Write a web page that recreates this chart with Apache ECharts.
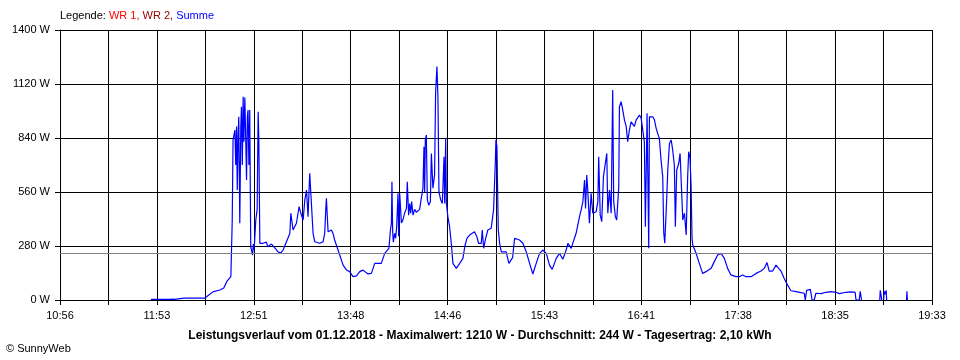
<!DOCTYPE html>
<html><head><meta charset="utf-8">
<script src="https://cdn.jsdelivr.net/npm/echarts@6/dist/echarts.min.js"></script>
<style>html,body{margin:0;padding:0;background:#fff}#c{width:960px;height:360px}</style>
</head><body><div id="c"></div>
<script>
// x tick labels (every second grid line), from 10:56
const timeLabels = ['10:56','11:53','12:51','13:48','14:46','15:43','16:41','17:38','18:35','19:33'];
const gridStepMinutes = 28.75;   // minutes between vertical grid lines
const spanMinutes = 517.5;       // 10:56 -> 19:33
const yTicksMax = 1400, yStep = 280;
const averageW = 244;

// [minutes after 10:56, W]
const morning = [
 [54.0,3],[59.3,3],[60.2,12],[61.1,3],[65.2,3],[67.0,5],[68.2,3],[73.5,10],[86.0,10],[87.2,18],
 [90.7,42],[94.9,52],[97.2,62],[99.0,96],[101.4,121],[102.2,407],[102.7,830],[103.8,881],[104.3,700],
 [104.8,899],[105.2,570],[105.7,850],[106.1,950],[106.7,398],[107.3,900],[107.7,1002],[108.2,700],
 [108.7,1054],[109.1,820],[109.7,1050],[110.3,800],[110.7,622],[111.2,950],[111.6,985],[112.1,700],
 [112.6,985],[113.2,276],[114.3,233],[114.7,290],[115.2,260],[116.2,415],[117.0,470],[117.6,976],
 [118.0,830],[118.6,294],[120.4,294],[122.5,300],[123.3,276],[125.5,290],[127.5,270],[129.4,250],
 [130.9,243],[132.4,259],[134.4,302],[136.4,345],[137.0,450],[138.3,363],[140.3,398],[141.9,484],
 [142.9,450],[144.3,415],[145.3,519],[146.3,570],[147.2,432],[148.2,657],[149.2,657],[150.2,345],
 [151.2,302],[154.2,294],[156.1,302],[157.1,345],[157.7,467],[158.1,527],[159.1,354],[161.1,363],
 [162.0,345],[163.0,311],[165.0,259],[166.0,233],[168.0,181],[170.0,156],[171.9,147],[173.9,121],
 [175.9,125],[177.9,147]
];
const midday = [
 [179.8,155],[182.8,135],[184.8,138],[186.8,190],[190.7,190],[192.7,242],[195.2,268],[196.1,363],
 [196.7,400],[197.0,613],[197.4,360],[197.8,300],[198.6,345],[199.2,320],[199.8,380],[200.6,553],
 [201.0,330],[201.6,553],[202.6,400],[203.5,415],[204.5,450],[205.6,475],[206.1,613],[206.9,440],
 [207.5,500],[208.1,450],[208.7,510],[209.5,440],[210.5,470],[211.5,455],[212.3,460],[213.4,470],
 [214.4,527],[215.4,580],[216.0,795],[216.4,560],[216.8,830],[217.4,855],[218.0,520],[218.8,492],
 [219.8,510],[220.4,760],[221.3,580],[222.3,650],[222.9,1072],[223.7,1210],[224.3,1050],[224.9,560],
 [225.9,520],[226.9,500],[227.9,743],[228.3,500],[228.9,838],[229.3,501],[230.2,432],[231.2,380],
 [232.2,294],[233.2,190],[235.2,164],[237.2,190],[239.1,216],[240.3,280],[241.5,320],[243.1,337],
 [246.0,354],[247.4,328],[248.4,294],[250.0,294],[250.6,363],[251.4,268],[252.6,320],[253.9,363],
 [255.9,372],[257.3,467],[258.3,700],[258.7,830],[259.3,795],[260.1,363],[260.9,294],[261.9,250],
 [264.8,250],[266.4,190],[268.6,220],[269.8,320],[272.7,311],[274.7,294],[276.7,250],[278.7,190],
 [280.6,135],[282.6,190],[284.6,242],[286.5,259],[288.6,242],[290.5,181],[292.1,159],[294.5,216],
 [296.4,242]
];
const afternoon = [
 [298.4,211],[300.4,259],[301.4,294],[303.4,268],[304.3,294],[306.3,346],[308.3,432],[309.3,467],
 [310.3,510],[311.3,622],[311.9,475],[312.6,648],[313.2,570],[314.2,398],[315.2,553],[316.2,450],
 [317.2,440],[318.2,458],[319.2,510],[319.7,743],[320.6,440],[321.5,406],[322.5,640],[323.5,700],
 [324.5,760],[325.1,450],[326.1,570],[327.1,450],[328.0,1089],[328.6,510],[329.6,432],[330.4,415],
 [331.6,588],[332.0,1002],[333.0,1028],[334.0,985],[335.0,933],[336.0,900],[336.9,821],[337.9,880],
 [338.9,924],[339.9,915],[340.9,900],[341.9,933],[342.9,942],[343.9,959],[344.9,942],[345.8,933],
 [346.8,820],[347.4,380],[348.4,968],[349.4,268],[349.8,950],[350.8,959],[351.8,950],[352.8,933],
 [353.8,890],[354.7,864],[355.7,838],[356.7,725],[357.7,640],[358.3,350],[358.9,294],[359.7,450],
 [360.7,674],[361.7,812],[362.7,830],[363.6,778],[364.6,700],[365.2,380],[366.0,674],[367.2,708],
 [368.0,760],[368.6,769],[369.6,415],[370.6,450],[371.6,337],[372.5,640],[373.1,769],[373.9,734],
 [374.5,600],[375.1,320],[375.5,285],[377.5,242],[379.4,190],[381.4,138],[383.4,147],[386.4,164],
 [388.3,199],[390.3,233],[392.3,242],[394.3,216],[396.2,164],[398.2,130],[401.2,121],[403.2,121]
];
const evening = [
 [405.1,130],[407.1,121],[410.1,121],[413.1,138],[416.0,150],[418.0,164],[419.6,194],[420.9,150],
 [422.9,150],[424.9,181],[425.9,176],[427.9,150],[429.8,112],[431.8,78],[433.8,48],[436.8,43],
 [439.7,38],[441.7,35],[442.3,0],[443.1,50],[444.2,60],[445.3,55],[446.3,0],[447.6,0],[448.6,35],
 [451.6,33],[454.6,40],[457.5,43],[460.5,40],[462.5,33],[466.4,40],[469.4,42],[471.9,40],[472.4,0],
 [474.3,0],[474.9,45],[475.7,0],[476.0,null],
 [486.5,0],[486.8,50],[487.4,48],[487.7,0],[488.0,null],
 [488.8,0],[489.1,45],[489.7,30],[490.3,50],[490.6,0],[491.0,null],
 [502.4,0],[502.6,45],[502.9,0]
];

const sumData = morning.concat(midday, afternoon, evening).map(p => [p[0], p[1] === null ? '-' : p[1]]);
const font = 'Liberation Sans, Arial, sans-serif';

const chart = echarts.init(document.getElementById('c'), null, {renderer: 'canvas'});
chart.setOption({
  animation: false,
  backgroundColor: '#ffffff',
  textStyle: {fontFamily: font},
  title: [
    {
      text: '{k|Legende: }{a|WR 1, }{b|WR 2, }{c|Summe}',
      left: 60, top: 10, padding: 0,
      textStyle: {
        fontWeight: 'normal', fontSize: 11,
        rich: {
          k: {color: '#000', fontSize: 11, fontWeight: 'normal', fontFamily: font},
          a: {color: '#ff0000', fontSize: 11, fontWeight: 'normal', fontFamily: font},
          b: {color: '#990000', fontSize: 11, fontWeight: 'normal', fontFamily: font},
          c: {color: '#0000ff', fontSize: 11, fontWeight: 'normal', fontFamily: font}
        }
      }
    },
    {
      text: 'Leistungsverlauf vom 01.12.2018 - Maximalwert: 1210 W - Durchschnitt: ' + averageW + ' W - Tagesertrag: 2,10 kWh',
      left: 'center', top: 330, padding: 0,
      textStyle: {color: '#000', fontSize: 12, fontWeight: 'bold', fontFamily: font}
    },
    {
      text: '\u00A9 SunnyWeb',
      left: 6, top: 343, padding: 0,
      textStyle: {color: '#000', fontSize: 11, fontWeight: 'normal', fontFamily: font}
    }
  ],
  grid: {left: 60, right: 28, top: 30, bottom: 60, containLabel: false},
  xAxis: {
    type: 'value', min: 0, max: spanMinutes, interval: gridStepMinutes,
    axisLine: {show: true, lineStyle: {color: '#000', width: 1}},
    axisTick: {show: true, length: 5, lineStyle: {color: '#000', width: 1}},
    splitLine: {show: true, lineStyle: {color: '#000', width: 1}},
    axisLabel: {
      show: true, color: '#000', fontSize: 11, fontFamily: font, margin: 10,
      showMinLabel: true, showMaxLabel: true, hideOverlap: false,
      formatter: v => {
        const i = Math.round(v / gridStepMinutes);
        return i % 2 === 0 ? (timeLabels[i / 2] || '') : '';
      }
    }
  },
  yAxis: {
    type: 'value', min: 0, max: yTicksMax, interval: yStep,
    axisLine: {show: true, lineStyle: {color: '#000', width: 1}},
    axisTick: {show: true, length: 5, lineStyle: {color: '#000', width: 1}},
    splitLine: {show: true, lineStyle: {color: '#000', width: 1}},
    axisLabel: {color: '#000', fontSize: 11, fontFamily: font, margin: 10, formatter: v => v + ' W'}
  },
  series: [{
    type: 'line', name: 'Summe', data: sumData,
    showSymbol: false, symbol: 'none', connectNulls: false,
    lineStyle: {color: '#0000ff', width: 1.2},
    itemStyle: {color: '#0000ff'},
    markLine: {
      silent: true, symbol: 'none', label: {show: false},
      lineStyle: {color: '#808080', width: 1, type: 'solid'},
      data: [{yAxis: averageW}]
    }
  }]
});
</script></body></html>
